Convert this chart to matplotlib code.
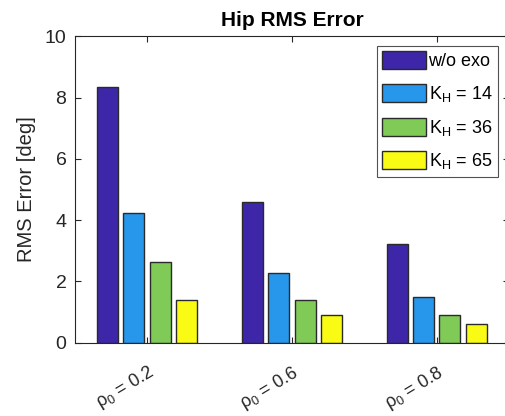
import matplotlib
matplotlib.use("Agg")
import matplotlib.pyplot as plt
import matplotlib.transforms as mtrans
import numpy as np

plt.rcParams['font.family'] = ['Liberation Sans', 'DejaVu Sans']
plt.rcParams['mathtext.fontset'] = 'custom'
plt.rcParams['mathtext.rm'] = 'Liberation Sans'
plt.rcParams['mathtext.it'] = 'Liberation Sans'

categories = ['ρ$_0$ = 0.2', 'ρ$_0$ = 0.6', 'ρ$_0$ = 0.8']
series_names = ['w/o exo', 'K$_H$ = 14', 'K$_H$ = 36', 'K$_H$ = 65']
values = [
    [8.33, 4.59, 3.21],   # w/o exo
    [4.23, 2.28, 1.50],   # K_H = 14
    [2.63, 1.40, 0.91],   # K_H = 36
    [1.39, 0.91, 0.61],   # K_H = 65
]
colors = ['#3E26A8', '#2797EB', '#80CB58', '#F9FB15']
yticks = [0, 2, 4, 6, 8, 10]

fig = plt.figure(figsize=(5.05, 4.16), dpi=100)
ax = fig.add_axes([0.148, 0.176, 0.86, 0.737])

x = np.arange(1, len(categories) + 1)
offsets = [-0.272, -0.091, 0.091, 0.272]
width = 0.145
for i, (name, vals) in enumerate(zip(series_names, values)):
    ax.bar(x + offsets[i], vals, width=width, color=colors[i],
           edgecolor='#2a2a2a', linewidth=1.0, label=name, zorder=2)

ax.set_xlim(0.5, 3.5)
ax.set_ylim(0, 10)
ax.set_yticks(yticks)
ax.set_xticks(x)
ax.set_xticklabels(categories, rotation=31, ha='right', va='top',
                   rotation_mode='anchor', fontsize=13, color='#262626')
shift = mtrans.ScaledTranslation(8 / 100, 0, fig.dpi_scale_trans)
for lab in ax.get_xticklabels():
    lab.set_transform(lab.get_transform() + shift)
for lab in ax.get_yticklabels():
    lab.set_fontsize(14)
    lab.set_color('#262626')
ax.tick_params(direction='in', top=True, right=True, length=4, width=0.8,
               colors='#262626')
ax.tick_params(axis='x', pad=14)
ax.tick_params(axis='y', pad=6)
for sp in ax.spines.values():
    sp.set_color('#262626')
    sp.set_linewidth(0.8)

ax.set_ylabel('RMS Error [deg]', fontsize=14.5, color='#262626', labelpad=6)
ax.set_title('Hip RMS Error', fontsize=15, fontweight='bold', pad=7)

leg = ax.legend(loc='upper right', bbox_to_anchor=(0.974, 0.968), fontsize=13,
                frameon=True, fancybox=False, edgecolor='#262626',
                handlelength=2.4, handleheight=1.15, handletextpad=0.15,
                labelspacing=0.75, borderpad=0.3, borderaxespad=0.0)
leg.get_frame().set_linewidth(0.8)
for p in leg.get_patches():
    p.set_edgecolor('#2a2a2a')

fig.savefig('out.png', dpi=100)
